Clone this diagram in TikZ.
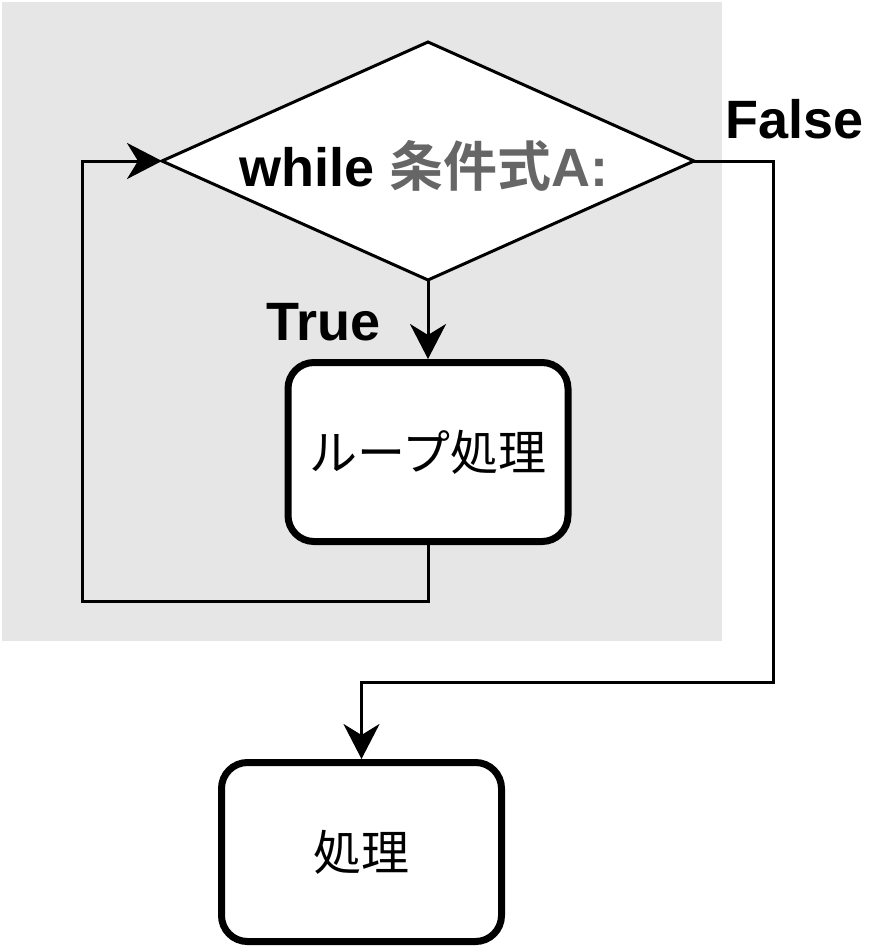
\documentclass[tikz,border=0pt]{standalone}
\usepackage{fontspec}
\setmainfont{Liberation Sans}
\newfontfamily\jp{Noto Sans CJK JP}[BoldFont={Noto Sans CJK JP Bold}]
\usetikzlibrary{shapes.geometric,arrows.meta}
\definecolor{bggray}{HTML}{E6E6E6}
\definecolor{txtgray}{HTML}{666666}
\tikzset{
  conn/.style={line width=3pt, line join=miter},
  arr/.style={conn, -{Stealth[length=35pt,width=36pt,inset=11pt]}},
  procbox/.style={draw, fill=white, line width=7pt, rounded corners=26pt,
    minimum width=280pt, minimum height=179pt, inner sep=0pt,
    font=\jp\fontsize{48}{56}\selectfont},
  lbl/.style={font=\bfseries\fontsize{54}{60}\selectfont, inner sep=0pt},
}
\begin{document}
\begin{tikzpicture}[x=1pt,y=-1pt]
\useasboundingbox (0,0) rectangle (896,948);
\fill[bggray] (2,2) rectangle (722,641);
\node[diamond, draw, fill=white, line width=3pt, minimum width=532pt,
  minimum height=238pt, inner sep=0pt, outer sep=0pt, aspect=2.235] (cond) at (428,161) {};
\node[lbl, anchor=base] (condtext) at (424,186)
  {while {\color{txtgray}{\jp\bfseries 条件式}A:}};
\node[procbox] (loop) at (428,452) {ループ処理};
\node[procbox] (proc) at (361.5,852) {処理};
\node[lbl, anchor=base west] (false) at (725,138) {False};
\node[lbl, anchor=base west] (true) at (266,340) {True};
\coordinate (l2) at (82,601);
\coordinate (fA) at (773.5,682);
\coordinate (fB) at (361.5,682);
\draw[arr] (cond.south) -- (loop.north);
\draw[arr] (loop.south) |- (l2) |- (cond.west);
\draw[arr] (cond.east) -| (fA) -- (fB) -- (proc.north);
\end{tikzpicture}
\end{document}
